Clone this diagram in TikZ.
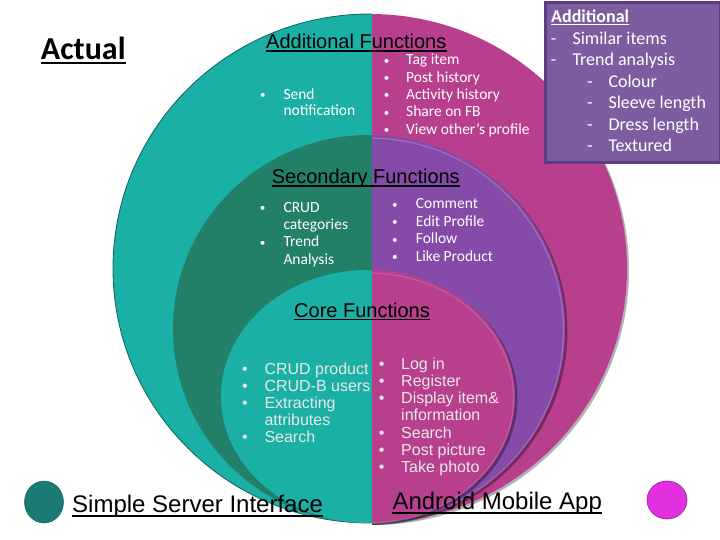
\documentclass[tikz,border=0pt]{standalone}
\usepackage{fontspec}
\usepackage{graphicx}
\usetikzlibrary{shapes.geometric}
\newfontfamily\calfont{Carlito}
\newfontfamily\arialfont{Liberation Sans}
\definecolor{tealA}{RGB}{26,176,166}
\definecolor{greenB}{RGB}{34,128,104}
\definecolor{magA}{RGB}{184,63,142}
\definecolor{purB}{RGB}{134,74,168}
\definecolor{boxfill}{RGB}{124,94,160}
\definecolor{boxline}{RGB}{90,62,128}
\definecolor{tealdot}{RGB}{26,122,116}
\definecolor{magdot}{RGB}{224,48,224}
\definecolor{magdotline}{RGB}{160,40,160}
\definecolor{coretext}{RGB}{232,232,232}
\newcommand\curbul{\textbullet}
\newcommand\smallbul{\raisebox{0.6pt}{\scalebox{0.72}{\textbullet}}}
\newcommand\bitem[5]{\node[anchor=base,inner sep=0pt] (#1b) at (#2,#4) {\curbul}; \node[anchor=base west,inner sep=0pt] (#1) at (#3,#4) {#5};}
\newcommand\citem[4]{\node[anchor=base west,inner sep=0pt] (#1) at (#2,#3) {#4};}
\newcommand\ditem[5]{\node[anchor=base west,inner sep=0pt] (#1b) at (#2,#4) {-}; \node[anchor=base west,inner sep=0pt] (#1) at (#3,#4) {#5};}
\tikzset{
  calsm/.style={font=\calfont\fontsize{15.5}{17}\selectfont, text=white},
  arialtitle/.style={font=\arialfont\fontsize{20}{24}\selectfont, text=black, anchor=base west, inner sep=0pt},
  arialbig/.style={font=\arialfont\fontsize{24}{28}\selectfont, text=black, anchor=base west, inner sep=0pt},
  coretxt/.style={font=\arialfont\fontsize{16}{18}\selectfont, text=coretext},
  uline/.style={line width=1.2pt, black}
}
\begin{document}
\begin{tikzpicture}[x=1pt,y=-1pt]
\useasboundingbox (0,0) rectangle (720,540);
\fill[white] (0,0) rectangle (720,540);

% ---- outer shape ----
\begin{scope}
  \clip (0,0) rectangle (372,540);
  \fill[tealA] (370,268.5) ellipse [x radius=257, y radius=254.5];
  \draw[tealA!55!black, line width=0.8pt] (370,268.5) ellipse [x radius=257, y radius=254.5];
\end{scope}
\begin{scope}
  \clip (372,0) rectangle (720,540);
  \fill[black, opacity=0.3] (372,270.5) ellipse [x radius=257, y radius=254.5];
  \fill[magA] (370,268.5) ellipse [x radius=257, y radius=254.5];
\end{scope}

% ---- middle shape ----
\begin{scope}
  \clip (0,0) rectangle (372,540);
  \fill[greenB] (369,329) ellipse [x radius=196, y radius=194];
\end{scope}
\begin{scope}
  \clip (372,0) rectangle (720,540);
  \fill[black, opacity=0.35] (371.5,331) ellipse [x radius=196, y radius=194];
  \fill[purB] (369,329) ellipse [x radius=196, y radius=194];
  \draw[white, opacity=0.2, line width=1.2pt] (369,330.5) ellipse [x radius=194.5, y radius=192.5];
\end{scope}

% ---- core shape ----
\begin{scope}
  \clip (0,0) rectangle (372,540);
  \fill[tealA] (368,396.5) ellipse [x radius=147, y radius=126.5];
\end{scope}
\begin{scope}
  \clip (372,0) rectangle (720,540);
  \fill[black, opacity=0.35] (370.5,398.5) ellipse [x radius=147, y radius=126.5];
  \fill[magA] (368,396.5) ellipse [x radius=147, y radius=126.5];
  \draw[white, opacity=0.15, line width=1.2pt] (368,398) ellipse [x radius=145.5, y radius=125];
\end{scope}

% ---- Actual ----
\node[font=\calfont\bfseries\fontsize{32}{38}\selectfont, anchor=base west, inner sep=0pt] (actual) at (40.7,60) {Actual};
\draw[line width=2pt] ([yshift=-2.8pt]actual.base west) -- ([yshift=-2.8pt]actual.base east);

% ---- Additional functions ----
\node[arialtitle] (addf) at (266,49) {Additional Functions};
\draw[uline] ([yshift=-2pt]addf.base west) -- ([yshift=-2pt]addf.base east);
\begin{scope}[every node/.append style={calsm}]
  \renewcommand\curbul{\smallbul}
  \bitem{sn}{263}{283.3}{99.3}{Send}
  \citem{sn2}{283.3}{115.8}{notification}
  \bitem{ti}{386.7}{406}{65}{Tag item}
  \bitem{ph}{386.7}{406}{82.3}{Post history}
  \bitem{ah}{386.7}{406}{99.6}{Activity history}
  \bitem{sf}{386.7}{406}{116.9}{Share on FB}
  \bitem{vp}{386.7}{406}{134.2}{View other’s profile}
\end{scope}

% ---- box ----
\node[draw=boxline, fill=boxfill, line width=2.5pt, minimum width=175pt, minimum height=160pt, inner sep=0pt, anchor=north west] (box) at (544.2,1.2) {};
\begin{scope}[every node/.append style={font=\calfont\fontsize{18}{21}\selectfont, text=white}]
  \node[anchor=base west, inner sep=0pt, font=\calfont\bfseries\fontsize{18}{21}\selectfont] (bt) at (551,22.5) {Additional};
  \draw[white, line width=1.3pt] ([yshift=-2pt]bt.base west) -- ([yshift=-2pt]bt.base east);
  \ditem{b1}{550.7}{572.3}{44.3}{Similar items}
  \ditem{b2}{550.7}{572.3}{66}{Trend analysis}
  \ditem{b3}{587}{608.3}{87.3}{Colour}
  \ditem{b4}{587}{608.3}{109}{Sleeve length}
  \ditem{b5}{587}{608.3}{130.3}{Dress length}
  \ditem{b6}{587}{608.3}{151.7}{Textured}
\end{scope}

% ---- Secondary ----
\node[arialtitle] (secf) at (271.7,184) {Secondary Functions};
\draw[uline] ([yshift=-2pt]secf.base west) -- ([yshift=-2pt]secf.base east);
\begin{scope}[every node/.append style={calsm}]
  \renewcommand\curbul{\smallbul}
  \bitem{cc}{262.7}{283.3}{212.3}{CRUD}
  \citem{cc2}{283.3}{229.5}{categories}
  \bitem{ta}{262.7}{283.3}{246.8}{Trend}
  \citem{ta2}{283.3}{264}{Analysis}
  \bitem{cm}{395}{415.7}{209}{Comment}
  \bitem{ep}{395}{415.7}{226.3}{Edit Profile}
  \bitem{fo}{395}{415.7}{243.6}{Follow}
  \bitem{lp}{395}{415.7}{261}{Like Product}
\end{scope}

% ---- Core ----
\node[arialtitle] (coref) at (294,317.3) {Core Functions};
\draw[uline] ([yshift=-2pt]coref.base west) -- ([yshift=-2pt]coref.base east);
\begin{scope}[every node/.append style={coretxt}]
  \bitem{cp}{245}{264.3}{374.3}{CRUD product}
  \bitem{cu}{245}{264.3}{391.4}{CRUD-B users}
  \bitem{ex}{245}{264.3}{408.5}{Extracting}
  \citem{ex2}{264.3}{425.6}{attributes}
  \bitem{se}{245}{264.3}{442.7}{Search}
  \bitem{li}{381.7}{401}{369.3}{Log in}
  \bitem{rg}{381.7}{401}{386.5}{Register}
  \bitem{di}{381.7}{401}{403.7}{Display item\&}
  \citem{di2}{401}{420.9}{information}
  \bitem{sr}{381.7}{401}{438.1}{Search}
  \bitem{pp}{381.7}{401}{455.3}{Post picture}
  \bitem{tp}{381.7}{401}{472.5}{Take photo}
\end{scope}

% ---- bottom legend ----
\node[fill=tealdot, draw=tealdot!80!black, line width=0.5pt, ellipse, minimum width=39pt, minimum height=42pt, inner sep=0pt] (lt) at (44,502) {};
\node[arialbig] (ssi) at (72,512.3) {Simple Server Interface};
\draw[line width=1.6pt] ([yshift=-3.6pt]ssi.base west) -- ([yshift=-3.6pt]ssi.base east);
\node[arialbig] (ama) at (392.3,509.3) {Android Mobile App};
\draw[line width=1.6pt] ([yshift=-3.6pt]ama.base west) -- ([yshift=-3.6pt]ama.base east);
\node[fill=magdot, draw=magdotline, line width=0.7pt, ellipse, minimum width=40pt, minimum height=38pt, inner sep=0pt] (lm) at (667,500) {};
\end{tikzpicture}
\end{document}
